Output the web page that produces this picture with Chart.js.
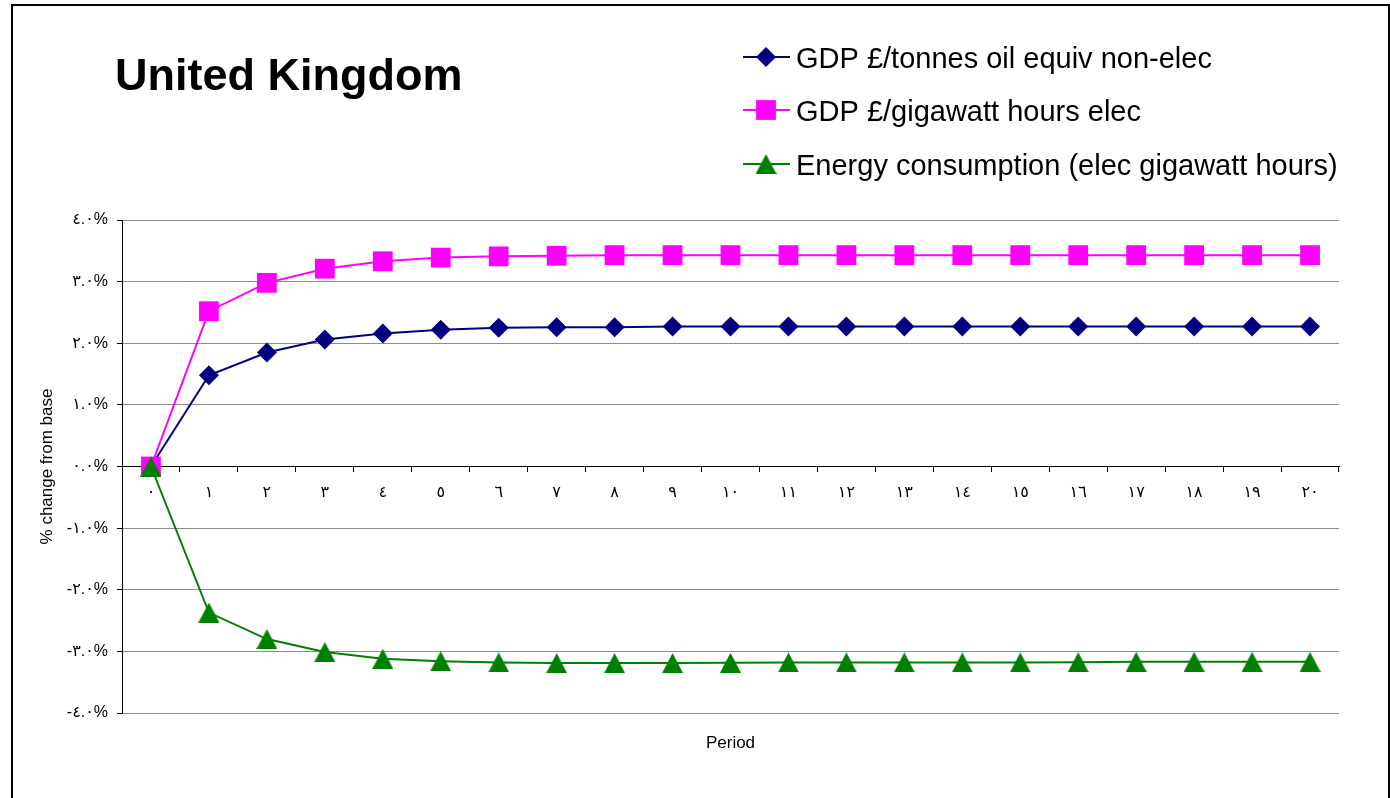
<!DOCTYPE html>
<html>
<head>
<meta charset="utf-8">
<title>United Kingdom</title>
<script src="https://cdn.jsdelivr.net/npm/chart.js@4.4.1/dist/chart.umd.min.js"></script>
<style>
  html, body { margin: 0; padding: 0; background: #ffffff; }
  #wrap { width: 1390px; height: 798px; position: relative; }
  canvas { display: block; }
</style>
</head>
<body>
<div id="wrap"><canvas id="chart" width="1390" height="798"></canvas></div>
<script>
// Periods 0..20, written with Arabic-Indic digits
const periods = ['٠','١','٢','٣','٤','٥','٦','٧','٨','٩','١٠','١١','١٢','١٣','١٤','١٥','١٦','١٧','١٨','١٩','٢٠'];

// % change from base
const gdpNonElec = [0, 1.48, 1.85, 2.06, 2.16, 2.22, 2.25, 2.26, 2.26, 2.27, 2.27, 2.27, 2.27, 2.27, 2.27, 2.27, 2.27, 2.27, 2.27, 2.27, 2.27];
const gdpElec = [0, 2.52, 2.98, 3.21, 3.33, 3.39, 3.41, 3.42, 3.43, 3.43, 3.43, 3.43, 3.43, 3.43, 3.43, 3.43, 3.43, 3.43, 3.43, 3.43, 3.43];
const energyElec = [0, -2.37, -2.80, -3.01, -3.12, -3.16, -3.18, -3.19, -3.19, -3.19, -3.185, -3.18, -3.18, -3.18, -3.18, -3.18, -3.175, -3.17, -3.17, -3.17, -3.17];

const seriesNames = [
  'GDP £/tonnes oil equiv non-elec',
  'GDP £/gigawatt hours elec',
  'Energy consumption (elec gigawatt hours)'
];

// y-axis tick values and their labels
const yTickValues = [4, 3, 2, 1, 0, -1, -2, -3, -4];
const yTickLabels = ['٤.٠%', '٣.٠%', '٢.٠%', '١.٠%', '٠.٠%', '-١.٠%', '-٢.٠%', '-٣.٠%', '-٤.٠%'];

const chartTitle = 'United Kingdom';
const xAxisTitle = 'Period';
const yAxisTitle = '% change from base';
const FONT = "'Liberation Sans', Arial, 'DejaVu Sans', sans-serif";

// Triangle marker centred on its bounding box
function triangleMarker(color, w, h) {
  const c = document.createElement('canvas');
  c.width = w;
  c.height = h;
  const g = c.getContext('2d');
  g.fillStyle = color;
  g.beginPath();
  g.moveTo(w / 2, 0);
  g.lineTo(w, h);
  g.lineTo(0, h);
  g.closePath();
  g.fill();
  return c;
}
const greenTriangle = triangleMarker('#008000', 21, 20);

// Frame around the whole figure
const framePlugin = {
  id: 'frame',
  afterDraw(chart) {
    const ctx = chart.ctx;
    ctx.save();
    ctx.strokeStyle = '#000';
    ctx.lineWidth = 2;
    ctx.strokeRect(12, 5, 1377, 820);
    ctx.restore();
  }
};

// Title at top-left, line+marker legend at top-right, and the x-axis caption
const headerPlugin = {
  id: 'header',
  afterDraw(chart) {
    const ctx = chart.ctx;
    const area = chart.chartArea;
    ctx.save();
    ctx.fillStyle = '#000';
    ctx.textAlign = 'left';
    ctx.textBaseline = 'alphabetic';
    ctx.font = 'bold 45px ' + FONT;
    ctx.fillText(chartTitle, 115, 90);

    const rows = [57, 110, 164];
    ctx.font = '29px ' + FONT;
    chart.data.datasets.forEach((ds, i) => {
      const y = rows[i];
      ctx.strokeStyle = ds.borderColor;
      ctx.lineWidth = 2;
      ctx.beginPath();
      ctx.moveTo(743, y);
      ctx.lineTo(790, y);
      ctx.stroke();
      ctx.fillStyle = ds.pointBackgroundColor;
      Chart.helpers.drawPoint(ctx, {
        pointStyle: ds.pointStyle,
        radius: ds.pointRadius,
        borderWidth: 0,
        rotation: 0
      }, 766, y);
      ctx.fillStyle = '#000';
      ctx.fillText(seriesNames[i], 796, y + 10.5);
    });

    ctx.font = '17px ' + FONT;
    ctx.textAlign = 'center';
    ctx.textBaseline = 'middle';
    ctx.fillText(xAxisTitle, (area.left + area.right) / 2, 743);
    ctx.restore();
  }
};

const gridGray = '#8c8c8c';

new Chart(document.getElementById('chart'), {
  type: 'line',
  data: {
    labels: periods,
    datasets: [
      {
        label: seriesNames[0],
        data: gdpNonElec,
        borderColor: '#000080',
        backgroundColor: '#000080',
        pointBackgroundColor: '#000080',
        pointStyle: 'rectRot',
        pointRadius: 10,
        pointBorderWidth: 0,
        borderWidth: 2,
        tension: 0,
        order: 2
      },
      {
        label: seriesNames[1],
        data: gdpElec,
        borderColor: '#ff00ff',
        backgroundColor: '#ff00ff',
        pointBackgroundColor: '#ff00ff',
        pointStyle: 'rect',
        pointRadius: 14,
        pointBorderWidth: 0,
        borderWidth: 2,
        tension: 0,
        order: 1
      },
      {
        label: seriesNames[2],
        data: energyElec,
        borderColor: '#008000',
        backgroundColor: '#008000',
        pointBackgroundColor: '#008000',
        pointStyle: greenTriangle,
        pointRadius: 11,
        pointBorderWidth: 0,
        borderWidth: 2,
        tension: 0,
        order: 0
      }
    ]
  },
  options: {
    responsive: false,
    devicePixelRatio: 1,
    animation: false,
    layout: { padding: { left: 0, right: 51, top: 220, bottom: 85 } },
    plugins: {
      legend: { display: false },
      tooltip: { enabled: false },
      title: { display: false }
    },
    scales: {
      x: {
        type: 'category',
        position: { y: 0 },
        offset: true,
        grid: {
          offset: true,
          drawOnChartArea: false,
          drawTicks: true,
          tickLength: 5,
          tickColor: '#000'
        },
        border: { display: true, color: '#000', width: 1 },
        ticks: {
          color: '#000',
          font: { family: FONT, size: 16 },
          padding: 11,
          autoSkip: false,
          maxRotation: 0
        },
        title: { display: false }
      },
      y: {
        position: 'left',
        min: -4,
        max: 4,
        afterFit(scale) { scale.width = 122; },
        afterBuildTicks(scale) { scale.ticks = yTickValues.map(v => ({ value: v })); },
        grid: {
          color: (c) => (c.tick && c.tick.value === 0 ? '#000' : gridGray),
          lineWidth: 1,
          drawTicks: true,
          tickLength: 5,
          tickColor: '#000'
        },
        border: { display: true, color: '#000', width: 1 },
        ticks: {
          color: '#000',
          font: { family: FONT, size: 16 },
          padding: 9,
          callback: (v) => yTickLabels[yTickValues.indexOf(v)]
        },
        title: {
          display: true,
          text: yAxisTitle,
          color: '#000',
          font: { family: FONT, size: 17 },
          padding: { top: 37, bottom: 0 }
        }
      }
    }
  },
  plugins: [framePlugin, headerPlugin]
});
</script>
</body>
</html>
